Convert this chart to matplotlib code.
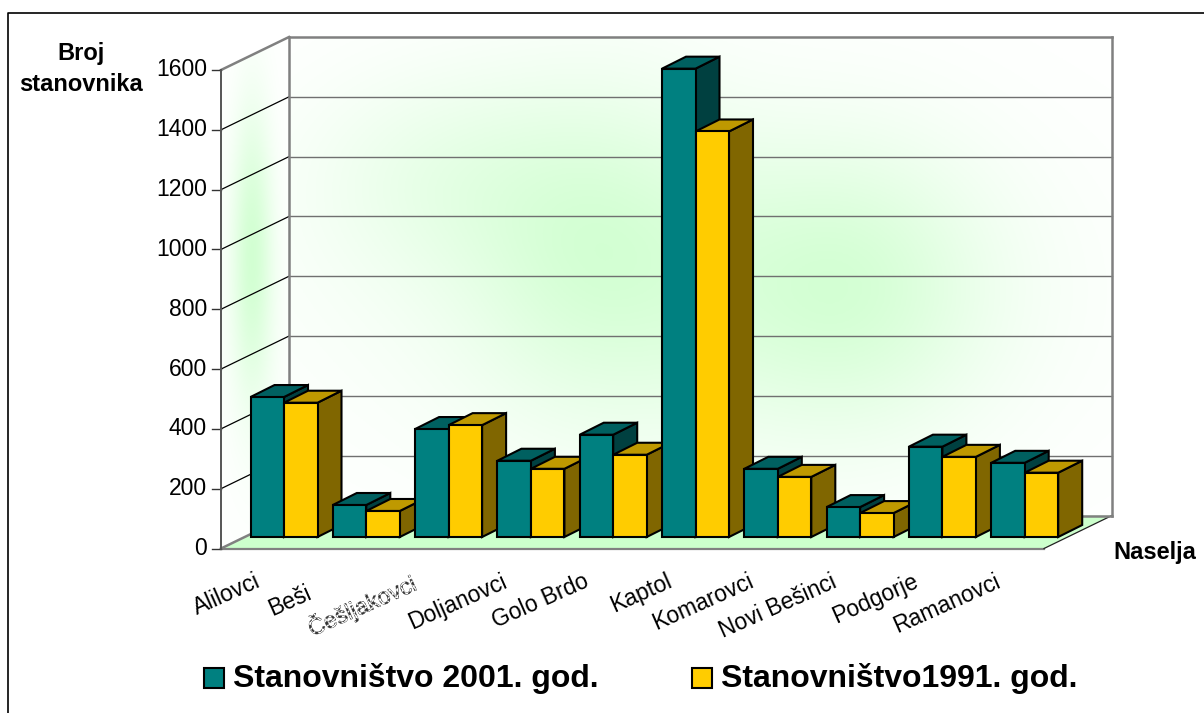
import numpy as np
import matplotlib
matplotlib.use("Agg")
import matplotlib.pyplot as plt
import matplotlib.patheffects as pe
from matplotlib.patches import Polygon, Rectangle
from matplotlib.lines import Line2D

plt.rcParams["font.family"] = ["Liberation Sans", "DejaVu Sans"]

# podaci
naselja = ["Alilovci", "Beši", "Češljakovci", "Doljanovci", "Golo Brdo", "Kaptol",
           "Komarovci", "Novi Bešinci", "Podgorje", "Ramanovci"]
stan_2001 = [468, 107, 361, 255, 342, 1566, 228, 100, 302, 248]
stan_1991 = [449, 87, 374, 228, 275, 1356, 201, 80, 268, 215]
y_ticks = [0, 200, 400, 600, 800, 1000, 1200, 1400, 1600]
legend_labels = ["Stanovništvo 2001. god.", "Stanovništvo1991. god."]

W, H = 1204, 713
fig = plt.figure(figsize=(W / 100, H / 100), dpi=100, facecolor="white")

# prednja ravnina grafa u pikselima
left, right, bottom, top = 221, 1044, 548.5, 70
ax = fig.add_axes([left / W, 1 - bottom / H, (right - left) / W, (bottom - top) / H])
px_x = (right - left) / 10
px_y = (bottom - top) / 1600

# kosa projekcija: dubina u jedinicama grafa
wall_dx, wall_dy = 68 / px_x, 33 / px_y
bar_dx, bar_dy = 24 / px_x, 12 / px_y
base_dx, base_dy = 29.5 / px_x - 0.09, 11.5 / px_y
bar_w = 33.5 / px_x

GRID = "#808080"


def back(x, y):
    return x + wall_dx, y + wall_dy


# pozadina - zeleni gradijent
def gradient(xs, ys, blobs):
    gx, gy = np.meshgrid(xs, ys)
    a = np.zeros_like(gx, dtype=float)
    for cx, cy, sx, sy, amp in blobs:
        a += amp * np.exp(-((gx - cx) / sx) ** 2 - ((gy - cy) / sy) ** 2)
    a = np.clip(a, 0, 1)[..., None]
    return (1 - a) * np.array([1.0, 1.0, 1.0]) + a * np.array([0.80, 1.0, 0.80])


xs = np.linspace(wall_dx, 10 + wall_dx, 300)
ys = np.linspace(wall_dy, 1600 + wall_dy, 200)
back_blobs = [(4.6, 1000, 1.6, 550, 0.6), (7.6, 870, 1.7, 480, 0.65),
              (2.6, 1250, 1.6, 350, 0.3), (5.5, 850, 4.6, 620, 0.22)]
back_img = ax.imshow(gradient(xs, ys, back_blobs), origin="lower", aspect="auto", zorder=0,
                     extent=[wall_dx, 10 + wall_dx, wall_dy, 1600 + wall_dy])
back_img.set_clip_on(False)

xs2 = np.linspace(0, wall_dx, 80)
ys2 = np.linspace(0, 1600 + wall_dy, 300)
side_blobs = [(0.38, 1000, 0.25, 480, 0.8), (0.38, 700, 0.5, 500, 0.1)]
side_img = ax.imshow(gradient(xs2, ys2, side_blobs), origin="lower", aspect="auto", zorder=0,
                     extent=[0, wall_dx, 0, 1600 + wall_dy])
side_clip = Polygon([(0, 0), back(0, 0), back(0, 1600), (0, 1600)],
                    transform=ax.transData, fill=False, ec="none", clip_on=False)
ax.add_patch(side_clip)
side_img.set_clip_box(fig.bbox)
side_img.set_clip_path(side_clip)

# pod
ax.add_patch(Polygon([(0, 0), (10, 0), back(10, 0), back(0, 0)], fc="#CCFFCC", ec="none", zorder=1,
                     clip_on=False))
ax.plot([0, 10], [0, 0], color=GRID, lw=1.6, zorder=2, clip_on=False)
ax.plot([10, 10 + wall_dx], [0, wall_dy], color="#222222", lw=0.9, zorder=2, clip_on=False)

# mreža
for t in y_ticks:
    lw = 1.0
    c = "#707070"
    if t in (0, 1600):
        lw = 1.8
        c = GRID
    ax.plot([wall_dx, 10 + wall_dx], [t + wall_dy] * 2, color=c, lw=lw, zorder=2, clip_on=False)
    if t in (0, 1600):
        ax.plot([0, wall_dx], [t, t + wall_dy], color=GRID, lw=1.8, zorder=2, clip_on=False)
    else:
        ax.plot([0, wall_dx], [t, t + wall_dy], color="black", lw=0.9, zorder=2, clip_on=False)
    ax.plot([-9 / px_x, 0], [t, t], color="#333333", lw=1.0, zorder=2, clip_on=False)
    ax.text(-14 / px_x, t, str(t), ha="right", va="center", fontsize=16.5, color="black", clip_on=False)

ax.plot([0, 0], [0, 1600], color="#555555", lw=1.4, zorder=2, clip_on=False)
for xv in (wall_dx, 10 + wall_dx):
    ax.plot([xv, xv], [wall_dy, 1600 + wall_dy], color=GRID, lw=1.8, zorder=2, clip_on=False)


# stupci
def bar3d(x, v, face, top_c, side_c, z):
    x0, x1 = x, x + bar_w
    y0, y1 = base_dy, base_dy + v
    style = dict(ec="black", lw=1.5, joinstyle="miter", zorder=z, clip_on=False)
    ax.add_patch(Polygon([(x1, y0), (x1 + bar_dx, y0 + bar_dy), (x1 + bar_dx, y1 + bar_dy), (x1, y1)],
                         fc=side_c, **style))
    ax.add_patch(Polygon([(x0, y1), (x1, y1), (x1 + bar_dx, y1 + bar_dy), (x0 + bar_dx, y1 + bar_dy)],
                         fc=top_c, **style))
    ax.add_patch(Polygon([(x0, y0), (x1, y0), (x1, y1), (x0, y1)], fc=face, **style))


for i in range(len(naselja)):
    x = i + 0.09 + base_dx
    z = 3 + i * 2
    bar3d(x, stan_2001[i], "#008080", "#006060", "#004040", z)
    bar3d(x + bar_w, stan_1991[i], "#FFCC00", "#BF9900", "#806600", z + 1)

# natpisi naselja
for i, name in enumerate(naselja):
    if name == "Beši":
        ax.text(i - 0.405, -205, name, rotation=24, rotation_mode="anchor", ha="left", va="center",
                fontsize=16.5, clip_on=False)
    elif name == "Češljakovci":
        # u originalu je ovaj natpis izobličen
        ax.text(i + 0.5 - 0.15, -112, name, rotation=24, rotation_mode="anchor", ha="right", va="center",
                fontsize=16.5, color="#333333", clip_on=False,
                path_effects=[pe.PathPatchEffect(facecolor="#333333", edgecolor="#333333", lw=0.4),
                              pe.PathPatchEffect(facecolor="none", edgecolor="white", hatch="xxxxx", lw=0)])
    else:
        ax.text(i + 0.5 - 0.04, -107, name, rotation=24, rotation_mode="anchor", ha="right", va="center",
                fontsize=16.5, clip_on=False)

ax.set_xlim(0, 10)
ax.set_ylim(0, 1600)
ax.axis("off")


def px(x, y):
    return x / W, 1 - y / H


# naslovi osi
fig.text(*px(81, 69), "Broj\nstanovnika", ha="center", va="center", fontsize=17, fontweight="bold",
         linespacing=1.4)
fig.text(*px(1155, 552), "Naselja", ha="center", va="center", fontsize=17, fontweight="bold")

# legenda
for sq_x, tx_x, col, lab in [(204, 233, "#008080", legend_labels[0]), (692, 721, "#FFCC00", legend_labels[1])]:
    fig.add_artist(Rectangle(px(sq_x, 688), 20 / W, 20 / H, transform=fig.transFigure, fc=col, ec="black", lw=1.5))
    fig.text(*px(tx_x, 678), lab, ha="left", va="center", fontsize=23, fontweight="bold")

# okvir
fig.add_artist(Line2D([8 / W, 8 / W, 1], [0, 1 - 13 / H, 1 - 13 / H], transform=fig.transFigure,
                      color="black", lw=1.2))

fig.savefig("out.png", dpi=100)
